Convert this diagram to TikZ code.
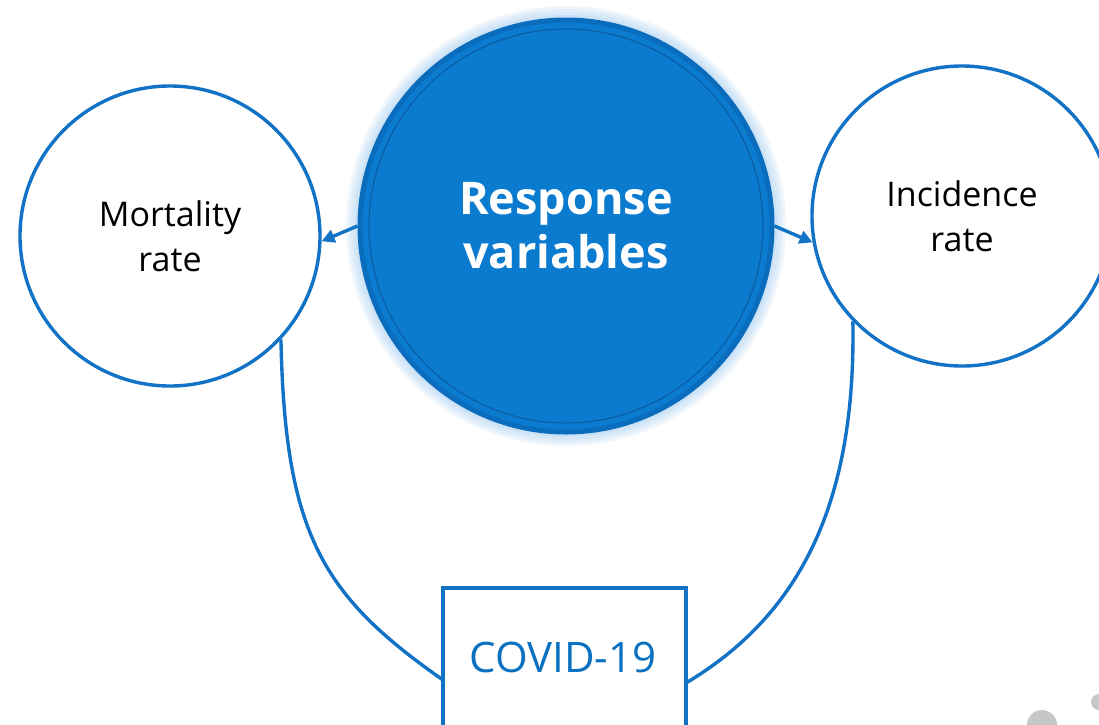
\documentclass[tikz,border=0pt]{standalone}
\usepackage{fontspec}
\setmainfont{Open Sans}
\usetikzlibrary{arrows.meta}
\definecolor{lineblue}{HTML}{1172C6}
\definecolor{discblue}{HTML}{0A7BCF}
\definecolor{rimblue}{HTML}{0A6CBC}
\definecolor{ringblue}{HTML}{0A5A9E}
\definecolor{glowblue}{HTML}{8EC0EC}
\definecolor{textblue}{HTML}{0A70C0}
\tikzset{
  outcircle/.style={circle, draw=lineblue, line width=3.4pt, fill=white, minimum size=300pt, inner sep=0pt, align=center, font=\fontsize{34}{45}\selectfont},
  maincircle/.style={circle, fill=discblue, draw=rimblue, line width=5pt, minimum size=412pt, inner sep=0pt, align=center, text=white, font=\fontsize{45}{58}\selectfont\bfseries},
  covbox/.style={rectangle, draw=lineblue, line width=3.4pt, fill=white, minimum width=243pt, minimum height=152pt, inner sep=0pt},
  covtext/.style={text=textblue, font=\fontsize{42}{48}\selectfont},
  link/.style={draw=lineblue, line width=3.4pt},
  arr/.style={link, -{Triangle[length=13pt,width=13pt]}}
}
\begin{document}
\begin{tikzpicture}[x=1pt,y=-1pt]
\useasboundingbox (0,0) rectangle (1099,724);
\clip (0,0) rectangle (1099,724);
% glow behind main disc
\foreach \r in {220,217,214,211}{
  \fill[glowblue, opacity=0.14] (566,226) circle[radius=\r pt];
}
\node[outcircle] (mr) at (170,236) {Mortality\\rate};
\node[outcircle] (ir) at (962,216) {Incidence\\rate};
\node[covbox] (cv) at (564.5,664) {};
\coordinate (cvl) at (443,680);
\coordinate (cvr) at (686,683);
\draw[link] (mr.-43) .. controls (285,535) and (323,596) .. (cvl);
\draw[link] (ir.-136) .. controls (856,510) and (796,617) .. (cvr);
\node[covbox] at (cv) {};
\node[covtext] (cvt) at (563,657) {COVID-19};
\node[maincircle] (rv) at (566,226) {Response\\[-4pt]variables};
\draw[ringblue, line width=1pt] (rv.center) circle[radius=197pt];
\draw[arr] (rv.180) -- (mr.-2);
\draw[arr] (rv.0) -- (ir.190);
% grey mark in the corner
\fill[black!22] (1042,725) circle[radius=15pt];
\fill[black!22] (1099,702) circle[radius=8pt];
\end{tikzpicture}
\end{document}
